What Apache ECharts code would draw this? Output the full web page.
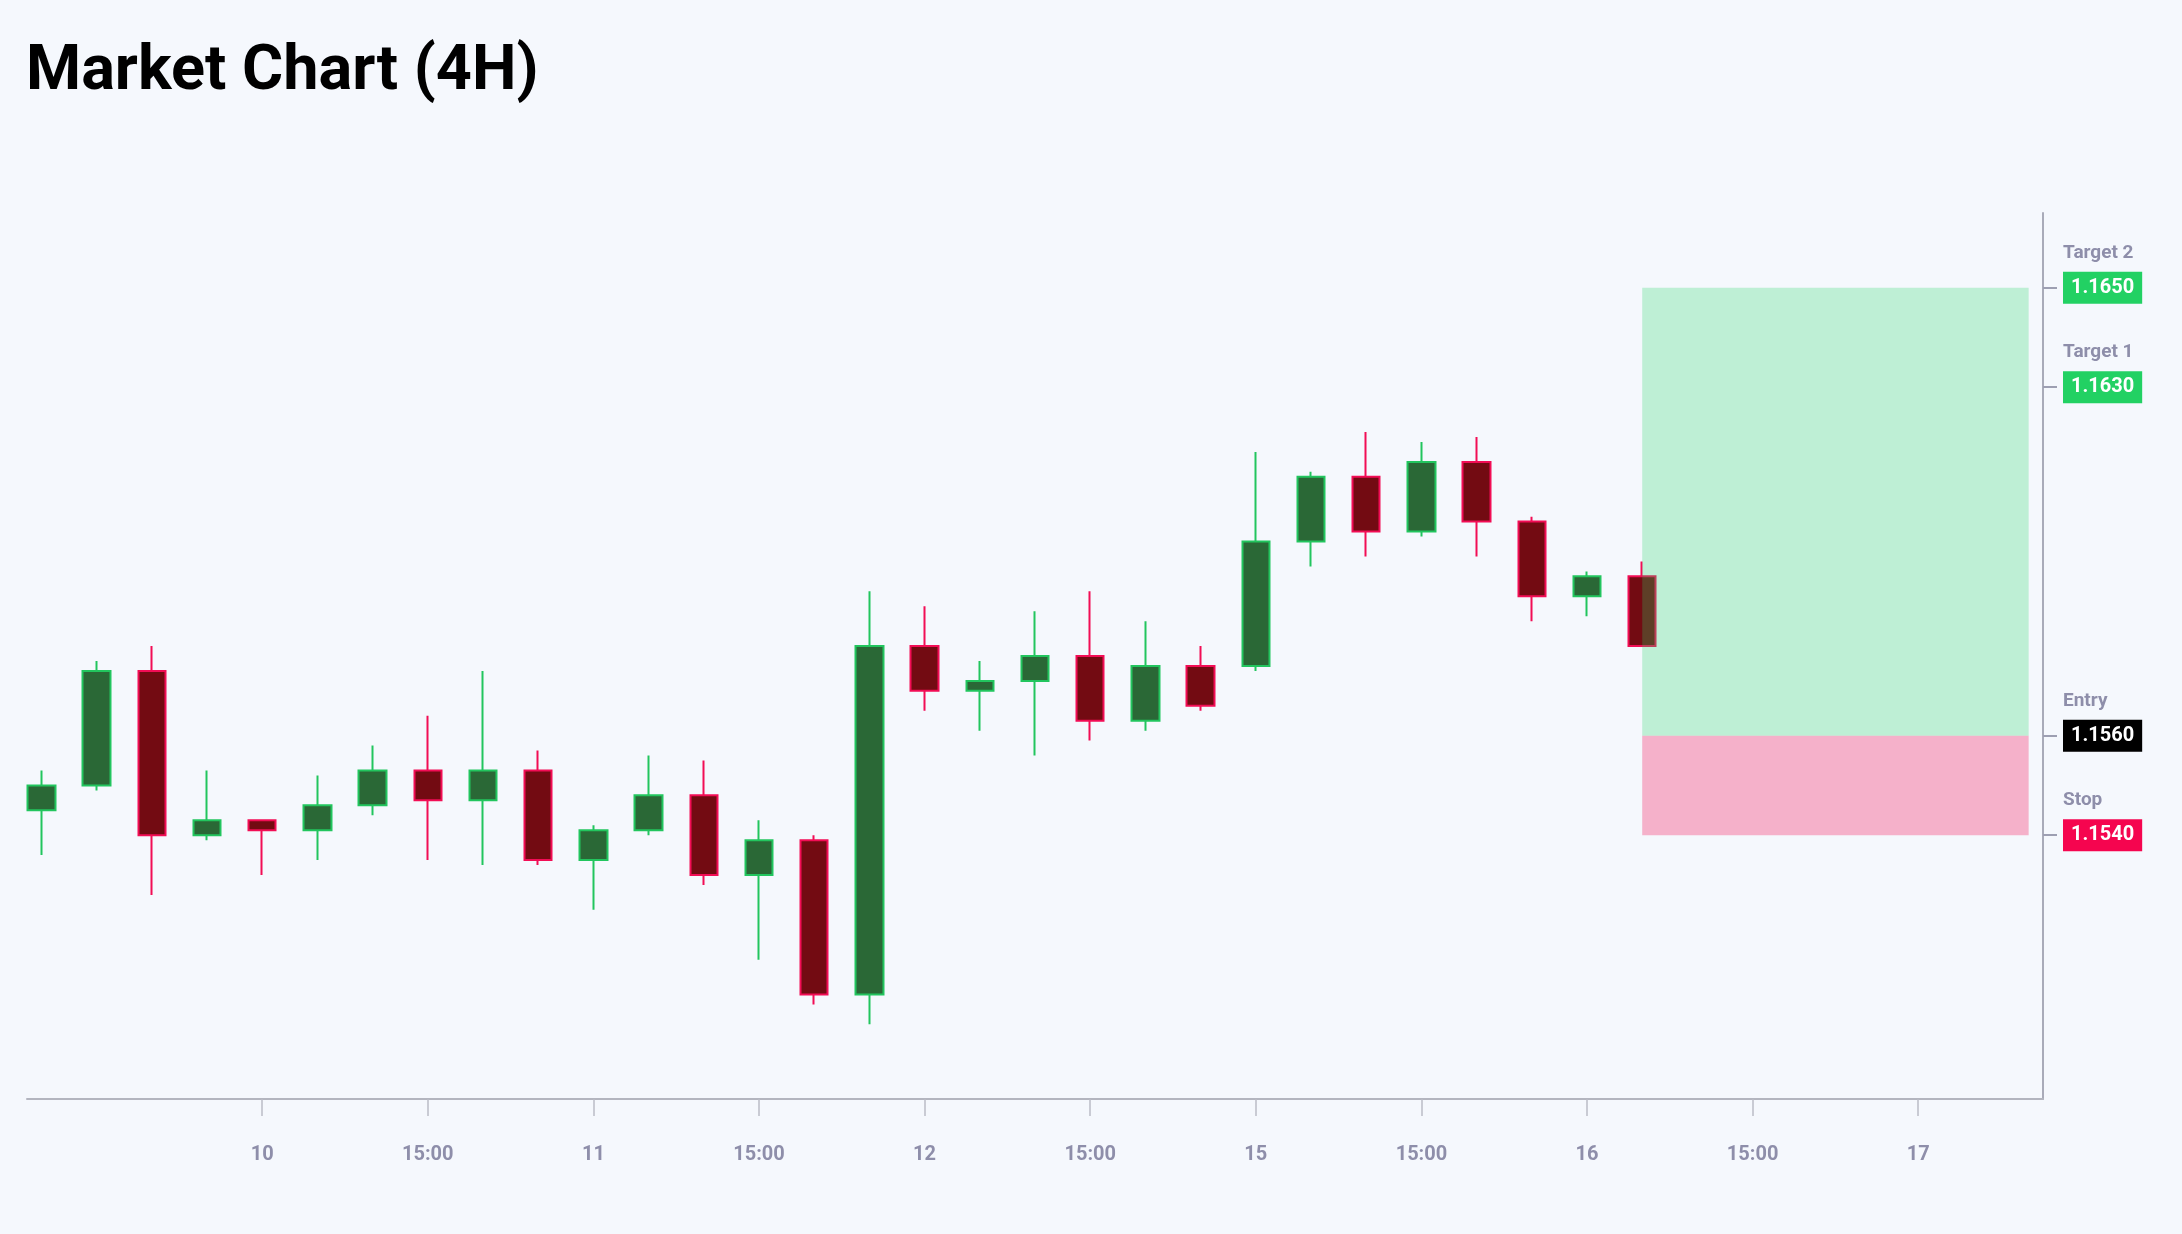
<!DOCTYPE html>
<html>
<head>
<meta charset="utf-8">
<title>Market Chart (4H)</title>
<script src="https://cdn.jsdelivr.net/npm/echarts@6.0.0/dist/echarts.min.js"></script>
<style>
  html, body { margin: 0; padding: 0; background: #f5f8fd; }
  #chart { width: 2182px; height: 1234px; }
</style>
</head>
<body>
<div id="chart"></div>
<script>
// 4H candles, [open, close, low, high]
var candles = [
  [1.1545, 1.1550, 1.1536, 1.1553],
  [1.1550, 1.1573, 1.1549, 1.1575],
  [1.1573, 1.1540, 1.1528, 1.1578],
  [1.1540, 1.1543, 1.1539, 1.1553],
  [1.1543, 1.1541, 1.1532, 1.1543],
  [1.1541, 1.1546, 1.1535, 1.1552],
  [1.1546, 1.1553, 1.1544, 1.1558],
  [1.1553, 1.1547, 1.1535, 1.1564],
  [1.1547, 1.1553, 1.1534, 1.1573],
  [1.1553, 1.1535, 1.1534, 1.1557],
  [1.1535, 1.1541, 1.1525, 1.1542],
  [1.1541, 1.1548, 1.1540, 1.1556],
  [1.1548, 1.1532, 1.1530, 1.1555],
  [1.1532, 1.1539, 1.1515, 1.1543],
  [1.1539, 1.1508, 1.1506, 1.1540],
  [1.1508, 1.1578, 1.1502, 1.1589],
  [1.1578, 1.1569, 1.1565, 1.1586],
  [1.1569, 1.1571, 1.1561, 1.1575],
  [1.1571, 1.1576, 1.1556, 1.1585],
  [1.1576, 1.1563, 1.1559, 1.1589],
  [1.1563, 1.1574, 1.1561, 1.1583],
  [1.1574, 1.1566, 1.1565, 1.1578],
  [1.1574, 1.1599, 1.1573, 1.1617],
  [1.1599, 1.1612, 1.1594, 1.1613],
  [1.1612, 1.1601, 1.1596, 1.1621],
  [1.1601, 1.1615, 1.1600, 1.1619],
  [1.1615, 1.1603, 1.1596, 1.1620],
  [1.1603, 1.1588, 1.1583, 1.1604],
  [1.1588, 1.1592, 1.1584, 1.1593],
  [1.1592, 1.1578, 1.1578, 1.1595]
];

// x axis ticks (candle slot -> label)
var xTickSlots = [4, 7, 10, 13, 16, 19, 22, 25, 28, 31, 34];
var xTickLabels = ['10', '15:00', '11', '15:00', '12', '15:00', '15', '15:00', '16', '15:00', '17'];

// trade levels
var levelNames = ['Target 2', 'Target 1', 'Entry', 'Stop'];
var levelPrices = [1.1650, 1.1630, 1.1560, 1.1540];
var levelKinds = ['tg', 'tg', 'en', 'st'];

// trade box spans these slots
var zoneStart = 29;
var zoneEnd = 36;

var chart = echarts.init(document.getElementById('chart'));

var seriesData = candles.map(function(c, i){
  return [i, c[0], c[1], c[2], c[3]];
});

var entry = levelPrices[2];
var stop = levelPrices[3];
var target = levelPrices[0];

chart.setOption({
  backgroundColor: '#f5f8fd',
  animation: false,
  title: {
    text: 'Market Chart (4H)',
    left: 21,
    top: 37,
    textStyle: {
      fontFamily: 'Roboto',
      fontSize: 63,
      fontWeight: 'bold',
      color: '#000000'
    }
  },
  grid: {
    left: 27,
    right: 139,
    top: 213,
    bottom: 135
  },
  xAxis: {
    type: 'value',
    min: -0.26,
    max: 36.26,
    splitLine: { show: false },
    axisLine: { onZero: false, lineStyle: { color: '#b3b5bf', width: 2 } },
    axisTick: {
      customValues: xTickSlots,
      length: 17,
      lineStyle: { color: '#babcc6', width: 1.5 }
    },
    axisLabel: {
      customValues: xTickSlots,
      margin: 46,
      fontFamily: 'Roboto',
      fontSize: 20,
      fontWeight: 'bold',
      color: '#8e8eaa',
      formatter: function(v){
        var k = xTickSlots.indexOf(Math.round(v));
        return k >= 0 ? xTickLabels[k] : '';
      }
    }
  },
  yAxis: {
    type: 'value',
    position: 'right',
    min: 1.1487,
    max: 1.1665,
    splitLine: { show: false },
    axisLine: { show: true, onZero: false, lineStyle: { color: '#a9abb9', width: 2 } },
    axisTick: {
      show: true,
      customValues: levelPrices,
      length: 14,
      lineStyle: { color: '#9d9fb2', width: 2 }
    },
    axisLabel: {
      customValues: levelPrices,
      margin: 20,
      fontFamily: 'Roboto',
      formatter: function(v){
        for( var i = 0; i < levelPrices.length; i++ ){
          if( Math.abs( levelPrices[i] - v ) < 1e-7 ){
            return '{n|' + levelNames[i] + '}\n{' + levelKinds[i] + '|' + levelPrices[i].toFixed( 4 ) + '}\n{e| }';
          }
        }
        return '';
      },
      rich: {
        n: { fontFamily: 'Roboto', fontSize: 19, fontWeight: 'bold', color: '#8e8eaa', lineHeight: 48 },
        tg: { fontFamily: 'Roboto', fontSize: 20, fontWeight: 'bold', color: '#ffffff', backgroundColor: '#22d163', padding: [6, 8], lineHeight: 21 },
        en: { fontFamily: 'Roboto', fontSize: 20, fontWeight: 'bold', color: '#ffffff', backgroundColor: '#000000', padding: [6, 8], lineHeight: 21 },
        st: { fontFamily: 'Roboto', fontSize: 20, fontWeight: 'bold', color: '#ffffff', backgroundColor: '#f5054f', padding: [6, 8], lineHeight: 21 },
        e: { fontSize: 10, lineHeight: 48 }
      }
    }
  },
  series: [
    {
      type: 'candlestick',
      data: seriesData,
      barWidth: 28,
      itemStyle: {
        color: '#2a6836',
        color0: '#730b12',
        borderColor: '#22c55e',
        borderColor0: '#f20d55',
        borderWidth: 2
      },
      markArea: {
        silent: true,
        z: 5,
        data: [
          [
            { xAxis: zoneStart, yAxis: target, itemStyle: { color: 'rgba(34,211,99,0.26)' } },
            { xAxis: zoneEnd, yAxis: entry }
          ],
          [
            { xAxis: zoneStart, yAxis: entry, itemStyle: { color: 'rgba(245,5,79,0.29)' } },
            { xAxis: zoneEnd, yAxis: stop }
          ]
        ]
      }
    }
  ]
});
</script>
</body>
</html>
